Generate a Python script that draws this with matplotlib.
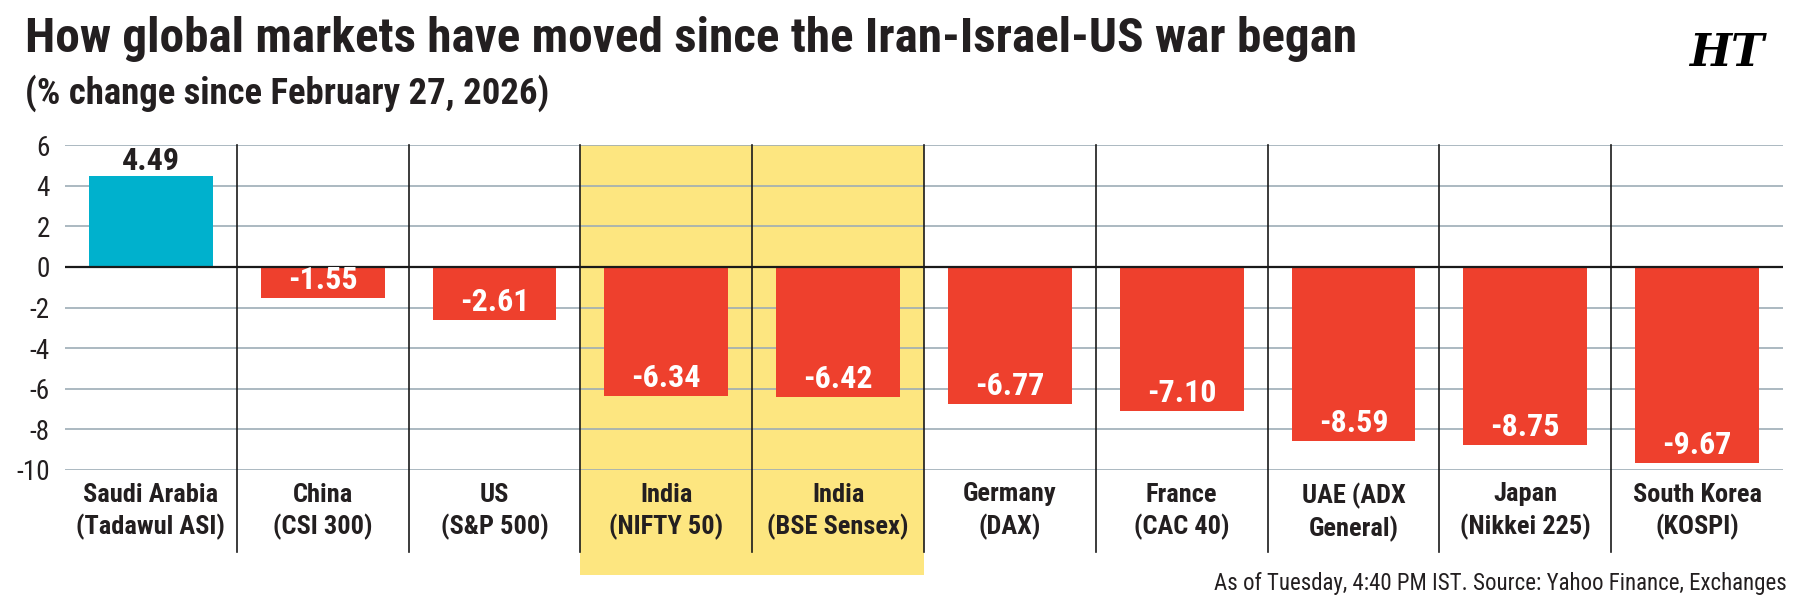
import matplotlib
matplotlib.use("Agg")
import matplotlib.pyplot as plt
from matplotlib import font_manager as fm
import matplotlib.transforms as mtransforms

names = {f.name for f in fm.fontManager.ttflist}
cond = [n for n in ["Roboto Condensed", "Liberation Sans Narrow", "DejaVu Sans Condensed", "Open Sans Condensed"] if n in names]
FAM = cond + ["Liberation Sans", "DejaVu Sans"]
plt.rcParams['font.family'] = FAM

# ---- data ----
markets = ["Saudi Arabia\n(Tadawul ASI)", "China\n(CSI 300)", "US\n(S&P 500)", "India\n(NIFTY 50)",
           "India\n(BSE Sensex)", "Germany\n(DAX)", "France\n(CAC 40)", "UAE (ADX\nGeneral)",
           "Japan\n(Nikkei 225)", "South Korea\n(KOSPI)"]
pct_change = [4.49, -1.55, -2.61, -6.34, -6.42, -6.77, -7.10, -8.59, -8.75, -9.67]
value_labels = ["4.49", "-1.55", "-2.61", "-6.34", "-6.42", "-6.77", "-7.10", "-8.59", "-8.75", "-9.67"]
highlighted = ["India\n(NIFTY 50)", "India\n(BSE Sensex)"]
y_ticks = [6, 4, 2, 0, -2, -4, -6, -8, -10]

TEAL = "#00B1CD"
RED = "#EE402D"
YELLOW = "#FDE680"
GRID = "#9DADB6"
INK = "#231F20"

W, H = 1795, 602
fig = plt.figure(figsize=(W / 100, H / 100), dpi=100)
ax = fig.add_axes([65 / W, (H - 470) / H, (1783 - 65) / W, (470 - 145) / H])
ax.set_xlim(-0.5, len(markets) - 0.5)
ax.set_ylim(-10, 6)
for s in ax.spines.values():
    s.set_visible(False)

px_per_unit = (470 - 145) / 16.0

# highlight band
idx_h = [markets.index(m) for m in highlighted]
x0 = min(idx_h) - 0.5
x1 = max(idx_h) + 0.5
ybot = -10 - (575 - 470) / px_per_unit
ax.fill_between([x0, x1], [ybot, ybot], [6, 6], color=YELLOW, zorder=0, clip_on=False, lw=0)

# gridlines
for t in y_ticks:
    if t == 0:
        continue
    ax.axhline(t, color=GRID, lw=1.2, zorder=1)

# separators
sep_bot = -10 - (552 - 470) / px_per_unit
for i in range(1, len(markets)):
    ax.plot([i - 0.5, i - 0.5], [sep_bot, 6], color="#1a1a1a", lw=1.2, zorder=2, clip_on=False)

colors = [TEAL if v > 0 else RED for v in pct_change]
bars = ax.bar(range(len(markets)), pct_change, width=0.72, color=colors, zorder=3)
ax.axhline(0, color="#1a1a1a", lw=1.6, zorder=4)

for i, (v, lab) in enumerate(zip(pct_change, value_labels)):
    if v > 0:
        off = mtransforms.offset_copy(ax.transData, fig=fig, x=0, y=6, units='dots')
        ax.text(i, v, lab, transform=off, ha='center', va='baseline', fontsize=23,
                fontweight='bold', color=INK, zorder=5)
    else:
        off = mtransforms.offset_copy(ax.transData, fig=fig, x=0, y=9, units='dots')
        ax.text(i, v, lab, transform=off, ha='center', va='baseline', fontsize=23,
                fontweight='bold', color='white', zorder=5)

ax.set_xticks(range(len(markets)))
ax.set_xticklabels(markets, fontsize=19, fontweight='bold', color=INK, linespacing=1.35)
ax.set_yticks(y_ticks)
ax.set_yticklabels([str(t) for t in y_ticks], fontsize=19.5, color=INK)
ax.tick_params(axis='x', length=0, pad=9)
ax.tick_params(axis='y', length=0, pad=11)

fig.text(25 / W, 1 - 52 / H, "How global markets have moved since the Iran-Israel-US war began",
         fontsize=35.5, fontweight='heavy', color=INK, ha='left', va='baseline')
fig.text(25 / W, 1 - 104 / H, "(% change since February 27, 2026)",
         fontsize=26.5, fontweight='bold', color=INK, ha='left', va='baseline')
fig.text(1727 / W, 1 - 66 / H, "HT", fontsize=32, fontweight='bold', style='italic',
         family=['DejaVu Serif'], color='black', ha='center', va='baseline')
fig.text(1787 / W, 1 - 590 / H, "As of Tuesday, 4:40 PM IST. Source: Yahoo Finance, Exchanges",
         fontsize=16.5, color=INK, ha='right', va='baseline')

fig.savefig("out.png", dpi=100, facecolor='white')
